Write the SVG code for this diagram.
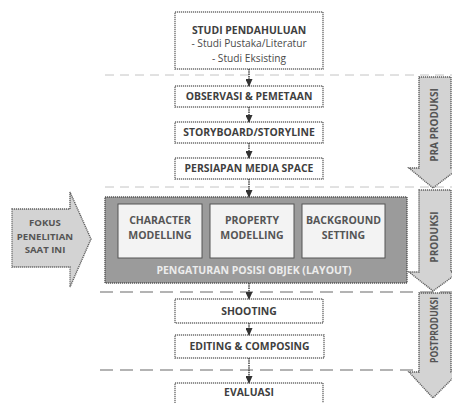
<svg xmlns="http://www.w3.org/2000/svg" width="452" height="403" viewBox="0 0 452 403">
<defs>
<style>
.box{fill:#ffffff;stroke:#6f6f6f;stroke-width:1.4;stroke-dasharray:1.2 0.8}
.t{font-family:"Open Sans","Liberation Sans",sans-serif;font-weight:bold;font-size:10.4px;fill:#3f3f3f;text-anchor:middle}
.r{font-family:"Open Sans","Liberation Sans",sans-serif;font-size:10.2px;fill:#4a4a4a;text-anchor:middle}
.inner{fill:#f3f3f3;stroke:#555;stroke-width:1}
.it{font-family:"Open Sans","Liberation Sans",sans-serif;font-weight:bold;font-size:10.5px;fill:#555;text-anchor:middle}
.sep1{stroke:#c4c4c4;stroke-width:1;stroke-dasharray:9 6;fill:none}
.sep2{stroke:#9a9a9a;stroke-width:1.3;stroke-dasharray:13 7;fill:none}
.big{fill:#d3d3d3;stroke:#5f5f5f;stroke-width:1.4;stroke-dasharray:1.2 0.8}
.bt{font-family:"Open Sans","Liberation Sans",sans-serif;font-weight:bold;font-size:10px;fill:#555;text-anchor:middle}
.ft{font-family:"Open Sans","Liberation Sans",sans-serif;font-weight:bold;font-size:9.6px;fill:#555;text-anchor:middle}
.con{stroke:#444;stroke-width:1.5;stroke-dasharray:1.5 0.8;fill:none;marker-end:url(#ah)}
</style>
<marker id="ah" markerWidth="8" markerHeight="7" refX="7" refY="3.5" orient="auto" markerUnits="userSpaceOnUse">
<path d="M0,0 L8,3.5 L0,7 Z" fill="#333"/>
</marker>
</defs>
<rect width="452" height="403" fill="#ffffff"/>
<g id="separators">
<line class="sep1" x1="105" y1="75" x2="452" y2="75"/>
<line class="sep1" x1="105" y1="187" x2="452" y2="187"/>
<line class="sep2" x1="100" y1="292" x2="452" y2="292"/>
<line class="sep2" x1="100" y1="370" x2="452" y2="370"/>
</g>
<g id="studi">
<rect class="box" x="175" y="12" width="148" height="57"/>
<text class="t" x="249" y="34">STUDI PENDAHULUAN</text>
<text class="r" x="249" y="47">- Studi Pustaka/Literatur</text>
<text class="r" x="249" y="62">- Studi Eksisting</text>
</g>
<g id="observasi">
<rect class="box" x="175" y="86" width="148" height="21"/>
<text class="t" x="249" y="100">OBSERVASI &amp; PEMETAAN</text>
</g>
<g id="storyboard">
<rect class="box" x="175" y="122" width="148" height="21"/>
<text class="t" x="249" y="136">STORYBOARD/STORYLINE</text>
</g>
<g id="persiapan">
<rect class="box" x="175" y="158" width="148" height="21"/>
<text class="t" x="249" y="172">PERSIAPAN MEDIA SPACE</text>
</g>
<g id="produksi-group">
<rect x="105" y="197" width="302" height="86" fill="#9b9b9b" stroke="#555" stroke-width="1.4" stroke-dasharray="1.2 0.8"/>
<text x="254" y="274" font-family="Open Sans, Liberation Sans, sans-serif" font-weight="bold" font-size="10.5" fill="#ececec" text-anchor="middle">PENGATURAN POSISI OBJEK (LAYOUT)</text>
</g>
<g id="character">
<rect class="inner" x="118" y="204" width="84" height="54"/>
<text class="it" x="160" y="224">CHARACTER</text>
<text class="it" x="160" y="239">MODELLING</text>
</g>
<g id="property">
<rect class="inner" x="210" y="204" width="84" height="54"/>
<text class="it" x="252" y="224">PROPERTY</text>
<text class="it" x="252" y="239">MODELLING</text>
</g>
<g id="background">
<rect class="inner" x="302" y="204" width="83" height="54"/>
<text class="it" x="343.5" y="224">BACKGROUND</text>
<text class="it" x="343.5" y="239">SETTING</text>
</g>
<g id="shooting">
<rect class="box" x="175" y="299" width="148" height="24"/>
<text class="t" x="249" y="315">SHOOTING</text>
</g>
<g id="editing">
<rect class="box" x="175" y="335" width="149" height="23"/>
<text class="t" x="249.5" y="350">EDITING &amp; COMPOSING</text>
</g>
<g id="evaluasi">
<rect class="box" x="175" y="383" width="148" height="26"/>
<text class="t" x="249" y="396">EVALUASI</text>
</g>
<g id="fokus">
<path class="big" d="M12,209 L70,209 L70,192 L91,239 L70,287 L70,267 L12,267 Z"/>
<text class="ft" x="45" y="226">FOKUS</text>
<text class="ft" x="45" y="239.5">PENELITIAN</text>
<text class="ft" x="45" y="253">SAAT INI</text>
</g>
<g id="pra-produksi">
<path class="big" d="M419,77 L451,77 L451,168 L459,168 L433,188 L409,168 L419,168 Z"/>
<text class="bt" transform="translate(438,125) rotate(-90)">PRA PRODUKSI</text>
</g>
<g id="produksi">
<path class="big" d="M419,190 L451,190 L451,272 L459,272 L433,291 L409,272 L419,272 Z"/>
<text class="bt" transform="translate(438,237) rotate(-90)">PRODUKSI</text>
</g>
<g id="postproduksi">
<path class="big" d="M419,293 L451,293 L451,372 L459,372 L433,398 L409,372 L419,372 Z"/>
<text class="bt" font-size="9" textLength="66" lengthAdjust="spacingAndGlyphs" transform="translate(437.5,330) rotate(-90)">POSTPRODUKSI</text>
</g>
<g id="connectors">
<line class="con" x1="249" y1="69" x2="249" y2="86"/>
<line class="con" x1="249" y1="107" x2="249" y2="122"/>
<line class="con" x1="249" y1="143" x2="249" y2="158"/>
<line class="con" x1="249" y1="179" x2="249" y2="197"/>
<line class="con" x1="249" y1="283" x2="249" y2="299"/>
<line class="con" x1="249" y1="323" x2="249" y2="335"/>
<line class="con" x1="249" y1="358" x2="249" y2="383"/>
</g>
</svg>
